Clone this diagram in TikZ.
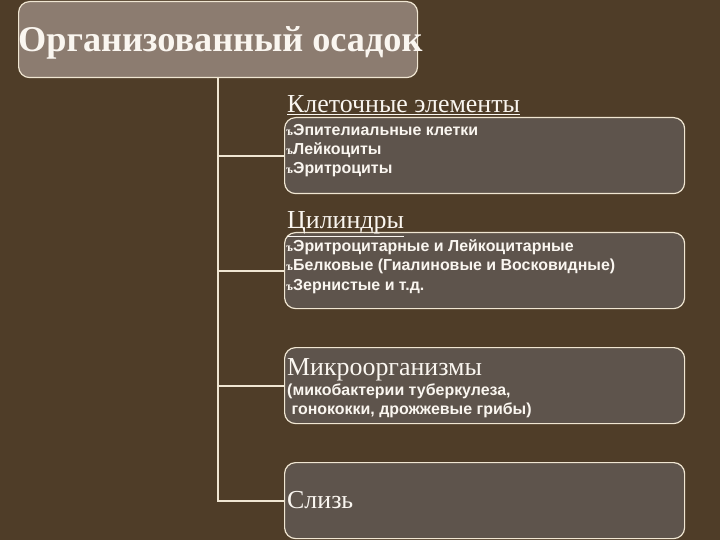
\documentclass[tikz,border=0pt]{standalone}
\usepackage{fontspec}
\setmainfont{Liberation Serif}
\newfontfamily\tnr{Liberation Serif}
\newfontfamily\arialb{Liberation Sans}
\definecolor{bgc}{HTML}{4F3D28}
\definecolor{titlefill}{HTML}{8C7C70}
\definecolor{boxfill}{HTML}{5E544C}
\definecolor{edgec}{HTML}{F0E6D2}
\definecolor{txtc}{HTML}{FAF6F0}
\newcommand{\bul}{{\tnr\bfseries\fontsize{12}{12}\selectfont ъ}}
\begin{document}
\begin{tikzpicture}[x=1bp,y=-1bp,
  boxst/.style={draw=edgec,line width=1.2bp,fill=boxfill,rounded corners=11bp,
    minimum width=400bp,minimum height=76bp,inner sep=0pt,anchor=north west},
  conn/.style={draw=edgec,line width=2bp},
  headst/.style={anchor=base west,inner sep=0pt,text=txtc,font=\tnr\fontsize{26}{26}\selectfont},
  itemst/.style={anchor=base west,inner sep=0pt,text=txtc,
    font=\arialb\bfseries\fontsize{16}{16}\selectfont}]
\fill[bgc] (0,0) rectangle (720,540);
\useasboundingbox (0,0) rectangle (720,540);
\node[draw=edgec,line width=1.2bp,fill=titlefill,rounded corners=11bp,
  minimum width=399bp,minimum height=76bp,inner sep=0pt,anchor=north west] (title) at (18,1) {};
\node[boxst] (b1) at (284,117) {};
\node[boxst] (b2) at (284,232) {};
\node[boxst] (b3) at (284,347) {};
\node[boxst] (b4) at (284,462) {};
\draw[conn] (title.south) |- (b1.west);
\draw[conn] (title.south) |- (b2.west);
\draw[conn] (title.south) |- (b3.west);
\draw[conn] (title.south) |- (b4.west);
\node[anchor=base west,inner sep=0pt,text=txtc,font=\tnr\bfseries\fontsize{36.4}{37}\selectfont] (tt) at (18,52) {Организованный осадок};
\node[headst] (h1) at (287,113) {\underline{Клеточные элементы}};
\node[itemst] (i11) at (286,135.5) {\bul Эпителиальные клетки};
\node[itemst] (i12) at (286,155) {\bul Лейкоциты};
\node[itemst] (i13) at (286,174) {\bul Эритроциты};
\node[headst] (h2) at (287,229) {\underline{Цилиндры}};
\node[itemst] (i21) at (286,251.5) {\bul Эритроцитарные и Лейкоцитарные};
\node[itemst] (i22) at (286,271) {\bul Белковые (Гиалиновые и Восковидные)};
\node[itemst] (i23) at (286,290) {\bul Зернистые и т.д.};
\node[headst] (h3) at (287,375.5) {Микроорганизмы};
\node[itemst] (i31) at (287,395) {(микобактерии туберкулеза,};
\node[itemst] (i32) at (287,414) {\ гонококки, дрожжевые грибы)};
\node[headst] (h4) at (287,508) {Слизь};
\end{tikzpicture}
\end{document}
